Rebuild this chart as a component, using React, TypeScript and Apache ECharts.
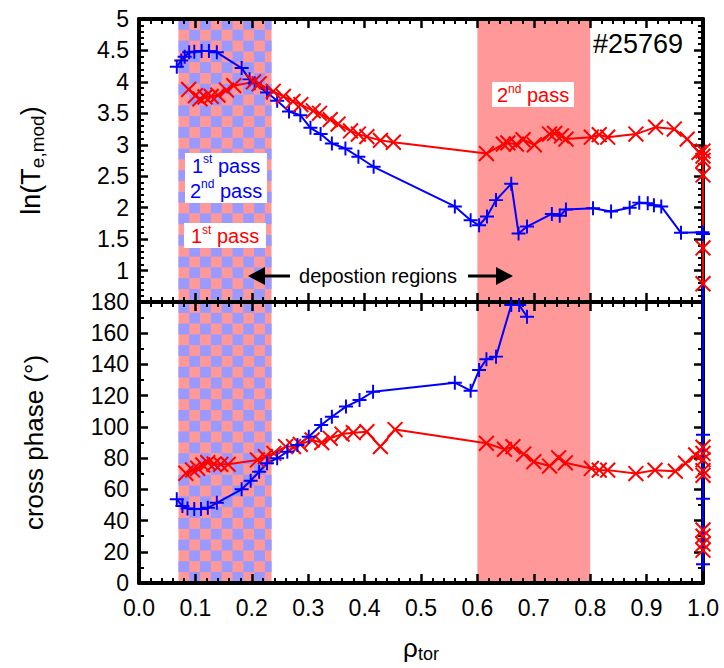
import React, { useEffect, useRef } from 'react';
import * as echarts from 'echarts';

// ---------- data ----------
// ln(T_e,mod) – blue (+)
const lnTeBlue: (number | null)[][] = [
  [0.067, 4.24], [0.075, 4.34], [0.081, 4.40], [0.089, 4.47], [0.098, 4.48], [0.111, 4.49],
  [0.124, 4.49], [0.138, 4.47], [0.182, 4.22], [0.196, 4.04], [0.205, 3.98], [0.227, 3.83],
  [0.245, 3.70], [0.266, 3.53], [0.286, 3.47], [0.304, 3.27], [0.322, 3.17], [0.342, 3.02],
  [0.366, 2.94], [0.389, 2.81], [0.416, 2.65], [0.560, 2.02], [0.588, 1.80], [0.603, 1.72],
  [0.617, 1.86], [0.633, 2.12], [0.660, 2.38], [0.673, 1.59], [0.688, 1.70], [0.732, 1.90],
  [0.746, 1.87], [0.757, 1.97], [0.805, 1.99], [0.837, 1.94], [0.870, 2.00], [0.887, 2.08],
  [0.902, 2.07], [0.913, 2.04], [0.926, 2.02], [0.961, 1.60], [0.999, 1.61], [1.0, 1.58],
  [1.0, 0.3],
];
// ln(T_e,mod) – red (x)
const lnTeRed: number[][] = [
  [0.088, 3.88], [0.100, 3.78], [0.108, 3.73], [0.117, 3.76], [0.128, 3.77], [0.140, 3.79],
  [0.155, 3.87], [0.168, 3.94], [0.203, 4.00], [0.213, 3.97], [0.238, 3.85], [0.256, 3.77],
  [0.273, 3.69], [0.287, 3.64], [0.309, 3.54], [0.320, 3.50], [0.339, 3.40], [0.353, 3.33],
  [0.375, 3.22], [0.389, 3.17], [0.404, 3.13], [0.428, 3.07], [0.451, 3.04], [0.616, 2.86],
  [0.646, 3.01], [0.654, 3.03], [0.669, 3.01], [0.681, 3.08], [0.701, 3.00], [0.728, 3.17],
  [0.737, 3.18], [0.749, 3.14], [0.757, 3.09], [0.802, 3.12], [0.816, 3.16], [0.831, 3.12],
  [0.881, 3.17], [0.916, 3.28], [0.949, 3.25], [0.972, 3.09], [0.993, 2.88], [1.0, 2.90],
  [1.0, 2.82], [1.0, 2.75], [1.0, 2.52], [1.0, 1.36], [1.0, 0.79],
];
// cross phase – blue (+)
const phaseBlue: (number | null)[][] = [
  [0.067, 53.6], [0.077, 49.3], [0.086, 47.8], [0.098, 47.4], [0.110, 47.4], [0.122, 48.2],
  [0.138, 51.4], [0.182, 60.0], [0.198, 65.5], [0.213, 71.3], [0.227, 76.7], [0.245, 79.9],
  [0.263, 84.1], [0.281, 88.4], [0.301, 93.7], [0.323, 101.2], [0.342, 106.5], [0.367, 113.0],
  [0.391, 117.2], [0.415, 122.5], [0.560, 128.3], [0.588, 123.2], [0.603, 136.4], [0.616, 143.3],
  [0.633, 145.0], [0.660, 178.1], [0.674, 178.1], [0.688, 170.6], [0.69, null],
  [1.0, 200], [1.0, 95], [1.0, 54], [1.0, 12],
];
// cross phase – red (x)
const phaseRed: number[][] = [
  [0.083, 70.3], [0.095, 72.4], [0.104, 73.5], [0.113, 75.6], [0.122, 77.1], [0.133, 76.2],
  [0.145, 76.0], [0.158, 76.0], [0.210, 78.8], [0.224, 80.9], [0.239, 83.1], [0.260, 87.4],
  [0.274, 87.4], [0.286, 88.8], [0.307, 91.6], [0.324, 89.9], [0.339, 92.7], [0.360, 95.4],
  [0.380, 96.3], [0.404, 96.9], [0.428, 87.4], [0.454, 98.3], [0.616, 89.5], [0.648, 85.6],
  [0.663, 87.3], [0.682, 82.6], [0.700, 77.7], [0.728, 74.9], [0.744, 80.2], [0.756, 77.0],
  [0.802, 73.4], [0.816, 72.3], [0.831, 72.3], [0.881, 70.1], [0.915, 72.3], [0.951, 71.6],
  [0.969, 76.7], [0.987, 82.0], [1.0, 87], [1.0, 83], [1.0, 79], [1.0, 72], [1.0, 69],
  [1.0, 34], [1.0, 30], [1.0, 25], [1.0, 21],
];
// deposition regions: [from, to, kind] kind 1 = checker (1st+2nd pass), 0 = solid (2nd pass)
const bands: number[][] = [
  [0.07, 0.235, 1],
  [0.6, 0.8, 0],
];
const xTickFormat = (v: number) => v.toFixed(1);
const topYTicks = { min: 0.5, max: 5, interval: 0.5 };
const botYTicks = { min: 0, max: 180, interval: 20 };

// ---------- styles ----------
const FONT = '"Liberation Sans", Arial, sans-serif';
const BLUE = '#0000ff';
const RED = '#ff0000';
const PINK = '#ff9999';
const LAVENDER = '#9999ff';
const PLUS = 'path://M4.3,0H5.7V4.3H10V5.7H5.7V10H4.3V5.7H0V4.3H4.3Z';
const CROSS = 'path://M4.52,0H5.48V4.52H10V5.48H5.48V10H4.52V5.48H0V4.52H4.52Z';

function xAxis(gridIndex: number, position: string, labels: boolean, name?: any) {
  return {
    type: 'value', gridIndex, position, min: 0, max: 1, interval: 0.1,
    axisLine: { show: true, onZero: false, lineStyle: { color: '#000', width: 4 } },
    axisTick: { show: true, inside: true, length: 9, lineStyle: { color: '#000', width: 2.5 } },
    minorTick: { show: true, splitNumber: 5, length: 5, lineStyle: { color: '#000', width: 2 } },
    axisLabel: { show: labels, formatter: xTickFormat, fontSize: 23, color: '#000', margin: 13, fontFamily: FONT },
    splitLine: { show: false },
    ...(name || {}),
  };
}
function yAxis(gridIndex: number, position: string, labels: boolean, t: any, minor: number, fmt: any, name?: any) {
  return {
    type: 'value', gridIndex, position, min: t.min, max: t.max, interval: t.interval,
    axisLine: { show: true, onZero: false, lineStyle: { color: '#000', width: 4 } },
    axisTick: { show: true, inside: true, length: 9, lineStyle: { color: '#000', width: 2.5 } },
    minorTick: { show: true, splitNumber: minor, length: 5, lineStyle: { color: '#000', width: 2 } },
    axisLabel: { show: labels, formatter: fmt, fontSize: 23, color: '#000', margin: 10, fontFamily: FONT },
    splitLine: { show: false },
    ...(name || {}),
  };
}

function bandRender(params: any, api: any) {
  const x0 = api.value(0), x1 = api.value(1), kind = api.value(2);
  const cs = params.coordSys;
  const yRef = params.seriesIndex === 0 ? 1 : 10;
  const pL = api.coord([x0, yRef])[0];
  const pR = api.coord([x1, yRef])[0];
  const top = cs.y, h = cs.height, bottom = cs.y + cs.height;
  const children: any[] = [
    { type: 'rect', shape: { x: pL, y: top, width: pR - pL, height: h }, style: { fill: PINK } },
  ];
  if (kind === 1) {
    const cell = 10.8;
    for (let j = 0; top + j * cell < bottom; j++) {
      for (let i = 0; pL + i * cell < pR; i++) {
        if ((i + j) % 2 === 0) {
          const cx = pL + i * cell, cy = top + j * cell;
          children.push({
            type: 'rect',
            shape: { x: cx, y: cy, width: Math.min(cell, pR - cx), height: Math.min(cell, bottom - cy) },
            style: { fill: LAVENDER },
          });
        }
      }
    }
  }
  return { type: 'group', children };
}

const richBase = (color: string) => ({
  a: { fontSize: 20, fontFamily: FONT, fill: color, lineHeight: 25 },
  s: { fontSize: 12, fontFamily: FONT, fill: color, verticalAlign: 'top', lineHeight: 14 },
});

export default function App() {
  const ref = useRef<HTMLDivElement>(null);
  useEffect(() => {
    if (!ref.current) return;
    const chart = echarts.init(ref.current, undefined, { renderer: 'svg' });
    const option: any = {
      animation: false,
      backgroundColor: '#fff',
      grid: [
        { left: 139, top: 19, width: 564, height: 283, containLabel: false },
        { left: 139, top: 302, width: 564, height: 281, containLabel: false },
      ],
      xAxis: [
        xAxis(0, 'bottom', false),
        xAxis(0, 'top', false),
        xAxis(1, 'bottom', true, {
          name: '{n|ρ}{s|tor}', nameLocation: 'middle', nameGap: 50,
          nameTextStyle: {
            rich: {
              n: { fontSize: 26, fontFamily: FONT, color: '#000', lineHeight: 30 },
              s: { fontSize: 18, fontFamily: FONT, color: '#000', verticalAlign: 'bottom', lineHeight: 22 },
            },
          },
        }),
        xAxis(1, 'top', false),
      ],
      yAxis: [
        yAxis(0, 'left', true, topYTicks, 5, (v: number) => (Math.abs(v - 0.5) < 1e-9 ? '' : String(v)), {
          name: '{n|ln(T}{s|e,mod}{n|)}', nameLocation: 'middle', nameGap: 92,
          nameTextStyle: {
            rich: {
              n: { fontSize: 27, fontFamily: FONT, color: '#000', lineHeight: 32 },
              s: { fontSize: 19, fontFamily: FONT, color: '#000', verticalAlign: 'bottom', lineHeight: 24 },
            },
          },
        }),
        yAxis(0, 'right', false, topYTicks, 5, null),
        yAxis(1, 'left', true, botYTicks, 2, (v: number) => String(v), {
          name: 'cross phase (°)', nameLocation: 'middle', nameGap: 92,
          nameTextStyle: { fontSize: 26, fontFamily: FONT, color: '#000' },
        }),
        yAxis(1, 'right', false, botYTicks, 2, null),
      ],
      series: [
        {
          type: 'custom', name: 'bandsTop', xAxisIndex: 0, yAxisIndex: 0, z: -1,
          renderItem: bandRender, data: bands, encode: { x: [0, 1] }, silent: true,
        },
        {
          type: 'custom', name: 'bandsBottom', xAxisIndex: 2, yAxisIndex: 2, z: -1,
          renderItem: bandRender, data: bands, encode: { x: [0, 1] }, silent: true,
        },
        {
          type: 'line', name: 'lnTe blue', xAxisIndex: 0, yAxisIndex: 0, data: lnTeBlue,
          color: BLUE, symbol: PLUS, symbolSize: 14, showAllSymbol: true, clip: true,
          lineStyle: { color: BLUE, width: 2 }, itemStyle: { color: BLUE },
        },
        {
          type: 'line', name: 'lnTe red', xAxisIndex: 0, yAxisIndex: 0, data: lnTeRed,
          color: RED, symbol: CROSS, symbolSize: 21, symbolRotate: 45, showAllSymbol: true, clip: true,
          lineStyle: { color: RED, width: 2 }, itemStyle: { color: RED },
        },
        {
          type: 'line', name: 'phase red', xAxisIndex: 2, yAxisIndex: 2, data: phaseRed,
          color: RED, symbol: CROSS, symbolSize: 21, symbolRotate: 45, showAllSymbol: true, clip: true,
          lineStyle: { color: RED, width: 2 }, itemStyle: { color: RED },
        },
        {
          type: 'line', name: 'phase blue', xAxisIndex: 2, yAxisIndex: 2, data: phaseBlue,
          color: BLUE, symbol: PLUS, symbolSize: 14, showAllSymbol: true, clip: true, connectNulls: false,
          lineStyle: { color: BLUE, width: 2 }, itemStyle: { color: BLUE },
        },
      ],
      graphic: [
        {
          type: 'text', right: 724 - 683, top: 30, z: 10,
          style: { text: '#25769', fontSize: 27, fontFamily: FONT, fill: '#000' },
        },
        { type: 'rect', z: 10, shape: { x: 492, y: 82, width: 82, height: 25 }, style: { fill: '#fff' } },
        {
          type: 'text', z: 11, x: 533, y: 95,
          style: { text: '{a|2}{s|nd}{a| pass}', rich: richBase(RED), align: 'center', verticalAlign: 'middle' },
        },
        { type: 'rect', z: 10, shape: { x: 185, y: 153, width: 82, height: 50 }, style: { fill: '#fff' } },
        {
          type: 'text', z: 11, x: 226, y: 178,
          style: { text: '{a|1}{s|st}{a| pass}\n{a|2}{s|nd}{a| pass}', rich: richBase(BLUE), align: 'center', verticalAlign: 'middle' },
        },
        { type: 'rect', z: 10, shape: { x: 184, y: 223, width: 82, height: 25 }, style: { fill: '#fff' } },
        {
          type: 'text', z: 11, x: 225, y: 236,
          style: { text: '{a|1}{s|st}{a| pass}', rich: richBase(RED), align: 'center', verticalAlign: 'middle' },
        },
        {
          type: 'text', z: 11, x: 378, y: 276,
          style: { text: 'depostion regions', fontSize: 20, fontFamily: FONT, fill: '#000', align: 'center', verticalAlign: 'middle' },
        },
        { type: 'line', z: 11, shape: { x1: 262, y1: 276, x2: 290, y2: 276 }, style: { stroke: '#000', lineWidth: 3 } },
        { type: 'polygon', z: 11, shape: { points: [[248, 276], [265, 267], [265, 285]] }, style: { fill: '#000' } },
        { type: 'line', z: 11, shape: { x1: 468, y1: 276, x2: 498, y2: 276 }, style: { stroke: '#000', lineWidth: 3 } },
        { type: 'polygon', z: 11, shape: { points: [[513, 276], [496, 267], [496, 285]] }, style: { fill: '#000' } },
      ],
    };
    chart.setOption(option);
    return () => chart.dispose();
  }, []);
  return <div ref={ref} style={{ position: 'absolute', left: 0, top: 0, width: 724, height: 668, background: '#fff' }} />;
}
